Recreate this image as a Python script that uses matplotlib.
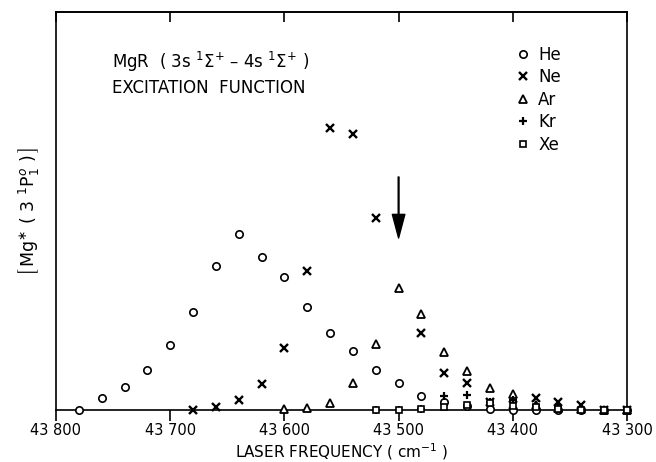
import matplotlib
matplotlib.use("Agg")
import matplotlib.pyplot as plt

plt.rcParams['font.family'] = ['DejaVu Sans']
plt.rcParams['mathtext.fontset'] = 'dejavusans'

# Data (arbitrary intensity units)
he_freq = [43780, 43760, 43740, 43720, 43700, 43680, 43660, 43640, 43620, 43600,
           43580, 43560, 43540, 43520, 43500, 43480, 43460, 43440, 43420, 43400,
           43380, 43360, 43340, 43320, 43300]
he_vals = [0, 12, 23, 40, 65, 98, 144, 176, 153, 133,
           103, 77, 59, 40, 27, 14, 8, 4, 1, 0,
           0, 0, 0, 0, 0]

ne_freq = [43680, 43660, 43640, 43620, 43600, 43580, 43560, 43540, 43520,
           43480, 43460, 43440, 43420, 43400, 43380, 43360, 43340, 43320, 43300]
ne_vals = [0, 3, 10, 26, 62, 139, 282, 276, 192,
           77, 37, 27, 8, 5, 12, 8, 5, 0, 0]

ar_freq = [43600, 43580, 43560, 43540, 43520, 43500, 43480, 43460, 43440, 43420,
           43400, 43380, 43360, 43340, 43320, 43300]
ar_vals = [1, 2, 7, 27, 66, 122, 96, 58, 39, 22,
           16, 5, 2, 1, 0, 0]

kr_freq = [43520, 43500, 43480, 43460, 43440, 43420, 43400, 43380, 43360, 43340, 43320, 43300]
kr_vals = [0, 0, 1, 14, 15, 8, 10, 5, 3, 2, 0, 0]

xe_freq = [43520, 43500, 43480, 43460, 43440, 43420, 43400, 43380, 43360, 43340, 43320, 43300]
xe_vals = [0, 0, 1, 3, 5, 7, 4, 3, 1, 0, 0, 0]

tick_vals = [43800, 43700, 43600, 43500, 43400, 43300]
tick_labels = ["43 800", "43 700", "43 600", "43 500", "43 400", "43 300"]

arrow_freq = 43500
arrow_top = 233
arrow_tip = 172

fig = plt.figure(figsize=(6.56, 4.62), dpi=100)
ax = fig.add_axes([56/656, 52/462, 571/656, 398/462])

common = dict(linestyle='none', color='black', clip_on=False, zorder=3)
ax.plot(he_freq, he_vals, marker='o', markersize=5.3, markerfacecolor='white',
        markeredgewidth=1.2, label='He', **common)
ax.plot(ne_freq, ne_vals, marker='x', markersize=5.5, markeredgewidth=1.7,
        label='Ne', **common)
ax.plot(ar_freq, ar_vals, marker='^', markersize=6, markerfacecolor='white',
        markeredgewidth=1.3, label='Ar', **common)
ax.plot(kr_freq, kr_vals, marker='+', markersize=6, markeredgewidth=1.6,
        label='Kr', **common)
ax.plot(xe_freq, xe_vals, marker='s', markersize=4.5, markerfacecolor='white',
        markeredgewidth=1.2, label='Xe', **common)

ax.annotate('', xy=(arrow_freq, arrow_tip), xytext=(arrow_freq, arrow_top),
            arrowprops=dict(facecolor='black', edgecolor='black', width=0.6,
                            headwidth=9, headlength=17, shrink=0))

ax.set_xlim(43800, 43300)
ax.set_ylim(0, 398)
ax.set_xticks(tick_vals)
ax.set_xticklabels(tick_labels, fontsize=10.5)
ax.set_yticks([])
ax.tick_params(axis='x', direction='out', length=8, width=1.2, pad=1.5)
ax.tick_params(axis='x', which='both', top=False)
secx = ax.secondary_xaxis('top')
secx.set_xticks(tick_vals)
secx.set_xticklabels([])
secx.tick_params(direction='in', length=7, width=1.2)
secx.spines['top'].set_linewidth(1.2)

for s in ax.spines.values():
    s.set_linewidth(1.2)

ax.set_xlabel(r"LASER FREQUENCY ( cm$^{-1}$ )", fontsize=11, labelpad=2)
ax.set_ylabel(r"$\left[\,\mathrm{Mg}^{\ast}\ (\ 3\ ^{1}\mathrm{P}^{o}_{1}\ )\,\right]$",
              fontsize=12.5, labelpad=10)

ax.text(0.098, 0.874, r"MgR  ( 3s $^{1}\Sigma^{+}$ – 4s $^{1}\Sigma^{+}$ )",
        transform=ax.transAxes, fontsize=12, va='center', ha='left')
ax.text(0.098, 0.81, "EXCITATION  FUNCTION", transform=ax.transAxes,
        fontsize=12, va='center', ha='left')

leg = ax.legend(loc='upper left', bbox_to_anchor=(0.805, 0.915), frameon=False,
                fontsize=12, handlelength=0.9, handletextpad=0.45,
                labelspacing=0.27, borderpad=0, borderaxespad=0)

fig.savefig("out.png", dpi=100)
